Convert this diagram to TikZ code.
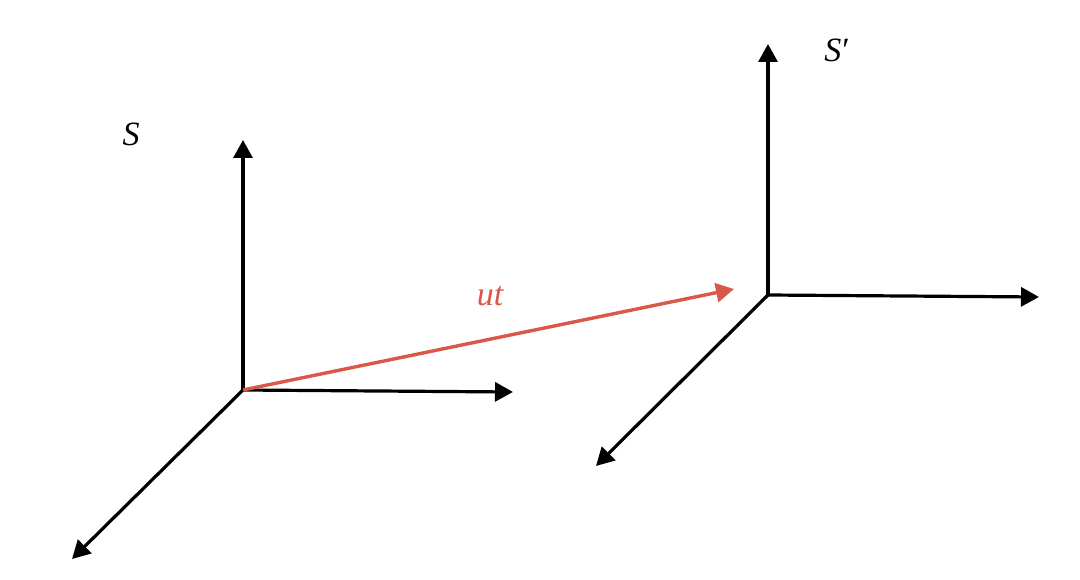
\documentclass[tikz,border=0pt]{standalone}
\usepackage{fontspec}
\setmainfont{Liberation Serif}
\usetikzlibrary{arrows.meta}
\definecolor{utred}{HTML}{D9584A}
\begin{document}
\begin{tikzpicture}[x=1pt,y=-1pt,
  axis/.style={line width=3.2pt,-{Triangle[length=18pt,width=19pt]},black},
  lbl/.style={font=\fontsize{34}{40}\selectfont\itshape}]
\useasboundingbox (0,0) rectangle (1080,580);
% frame S
\coordinate (o1) at (243,390);
\coordinate (y1) at (243,140);
\coordinate (x1) at (513,392);
\coordinate (z1) at (72,559);
% frame S'
\coordinate (o2) at (768,295);
\coordinate (y2) at (768,44);
\coordinate (x2) at (1039,297);
\coordinate (z2) at (596,466);
\coordinate (ut) at (734,289);
\draw[axis] (o1) -- (y1);
\draw[axis] (o1) -- (x1);
\draw[axis] (o1) -- (z1);
\draw[axis] (o2) -- (y2);
\draw[axis] (o2) -- (x2);
\draw[axis] (o2) -- (z2);
\draw[axis,utred,line width=3.4pt] (o1) -- (ut);
\node[lbl] (s) at (131,134) {S};
\node[lbl] (sp) at (837,50) {S\kern1pt\textup{\char"2032}};
\node[lbl,text=utred] (utl) at (490,296) {ut};
\end{tikzpicture}
\end{document}
